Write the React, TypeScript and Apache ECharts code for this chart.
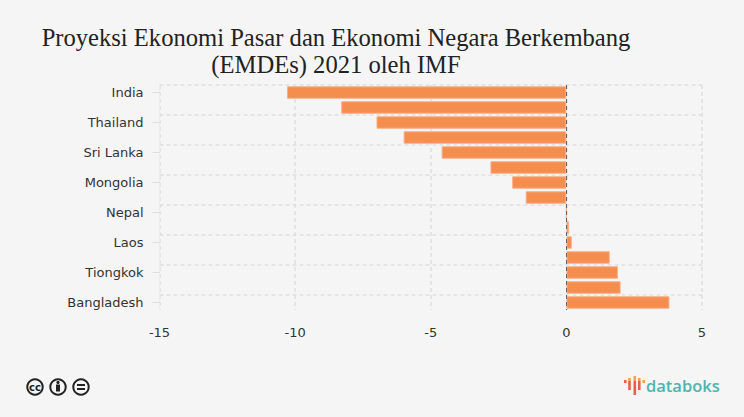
import React, { useEffect, useRef } from "react";
import * as echarts from "echarts";

const titleLines = ["Proyeksi Ekonomi Pasar dan Ekonomi Negara Berkembang", "(EMDEs) 2021 oleh IMF"];
// Only every second category name is legible in the picture.
const categories = ["India", "", "Thailand", "", "Sri Lanka", "", "Mongolia", "", "Nepal", "", "Laos", "", "Tiongkok", "", "Bangladesh"];
const values = [-10.3, -8.3, -7, -6, -4.6, -2.8, -2, -1.5, 0, 0.1, 0.2, 1.6, 1.9, 2, 3.8];
const xTicks = { min: -15, max: 5, interval: 5 };

const GRID = "#dedede";
const RED = "#e8604c";
const ORANGE = "#f2a04f";
const logoBars = [
  { x: 624, y: 380, h: 3, c: RED },
  { x: 628.2, y: 378, h: 3, c: ORANGE },
  { x: 628.2, y: 381, h: 9, c: RED },
  { x: 633.5, y: 376, h: 5, c: ORANGE },
  { x: 633.5, y: 381, h: 14, c: RED },
  { x: 638, y: 378, h: 3, c: ORANGE },
  { x: 638, y: 381, h: 9, c: RED },
  { x: 642.4, y: 380, h: 3, c: ORANGE },
];

export default function App() {
  const ref = useRef<HTMLDivElement>(null);
  useEffect(() => {
    const chart = echarts.init(ref.current!, null, { renderer: "svg" });
    const axisText = { color: "#333", fontFamily: "DejaVu Sans", fontSize: 13 };
    chart.setOption({
      animation: false,
      backgroundColor: "#f5f5f5",
      title: {
        text: titleLines.join("\n"),
        left: 331,
        top: 19,
        textAlign: "center",
        textStyle: { fontFamily: "Liberation Serif", fontWeight: "normal", fontSize: 24.6, lineHeight: 27, color: "#222" },
      },
      grid: { left: 159.5, right: 42, top: 85, height: 225 },
      xAxis: {
        type: "value",
        min: xTicks.min,
        max: xTicks.max,
        interval: xTicks.interval,
        axisLine: { show: false },
        axisTick: { show: false },
        axisLabel: { ...axisText, margin: 16, showMinLabel: true, showMaxLabel: true },
        splitLine: { show: true, lineStyle: { color: GRID, type: [4, 3], width: 1.5 } },
      },
      yAxis: [
        {
          type: "category",
          inverse: true,
          data: categories,
          axisLine: { show: false },
          axisTick: { show: false },
          axisLabel: { ...axisText, interval: 1, margin: 16 },
          splitLine: { show: true, interval: 1, showMaxLine: false, lineStyle: { color: GRID, type: [4, 3], width: 1.5 } },
        },
        {
          type: "category",
          position: "left",
          inverse: true,
          data: categories,
          axisLine: { show: true, onZero: false, lineStyle: { color: "#ececec", width: 1 } },
          axisTick: { show: true, interval: 1, alignWithLabel: true, length: 7, lineStyle: { color: GRID, width: 1 } },
          axisLabel: { show: false },
          splitLine: { show: false },
        },
      ],
      series: [
        {
          type: "bar",
          data: values,
          barWidth: 12.5,
          itemStyle: { color: "#f58d4f", borderColor: "#f9b088", borderWidth: 1 },
          markLine: {
            silent: true,
            symbol: "none",
            label: { show: false },
            lineStyle: { color: "#666", type: [4, 3], width: 1 },
            data: [{ xAxis: 0 }],
          },
        },
      ],
      graphic: [
        ...[35, 58, 81].map((cx) => ({
          type: "circle",
          shape: { cx, cy: 387, r: 7.7 },
          style: { fill: "#f5f5f5", stroke: "#222", lineWidth: 2 },
        })),
        { type: "text", x: 35, y: 387, style: { text: "cc", fill: "#222", font: "bold 10px 'DejaVu Sans'", align: "center", verticalAlign: "middle" } },
        { type: "circle", shape: { cx: 58, cy: 382.5, r: 1.6 }, style: { fill: "#222" } },
        { type: "rect", shape: { x: 56, y: 384.5, width: 4, height: 7 }, style: { fill: "#222" } },
        { type: "rect", shape: { x: 77, y: 384, width: 8, height: 2 }, style: { fill: "#222" } },
        { type: "rect", shape: { x: 77, y: 388, width: 8, height: 2 }, style: { fill: "#222" } },
        ...logoBars.map((b) => ({
          type: "rect",
          shape: { x: b.x, y: b.y, width: 2.6, height: b.h },
          style: { fill: b.c },
        })),
        { type: "text", x: 646, y: 385, style: { text: "databoks", fill: "#4fb3af", font: "600 16.5px 'Open Sans'", align: "left", verticalAlign: "middle" } },
      ],
    });
    return () => chart.dispose();
  }, []);
  return <div ref={ref} style={{ position: "fixed", left: 0, top: 0, width: 744, height: 417 }} />;
}
